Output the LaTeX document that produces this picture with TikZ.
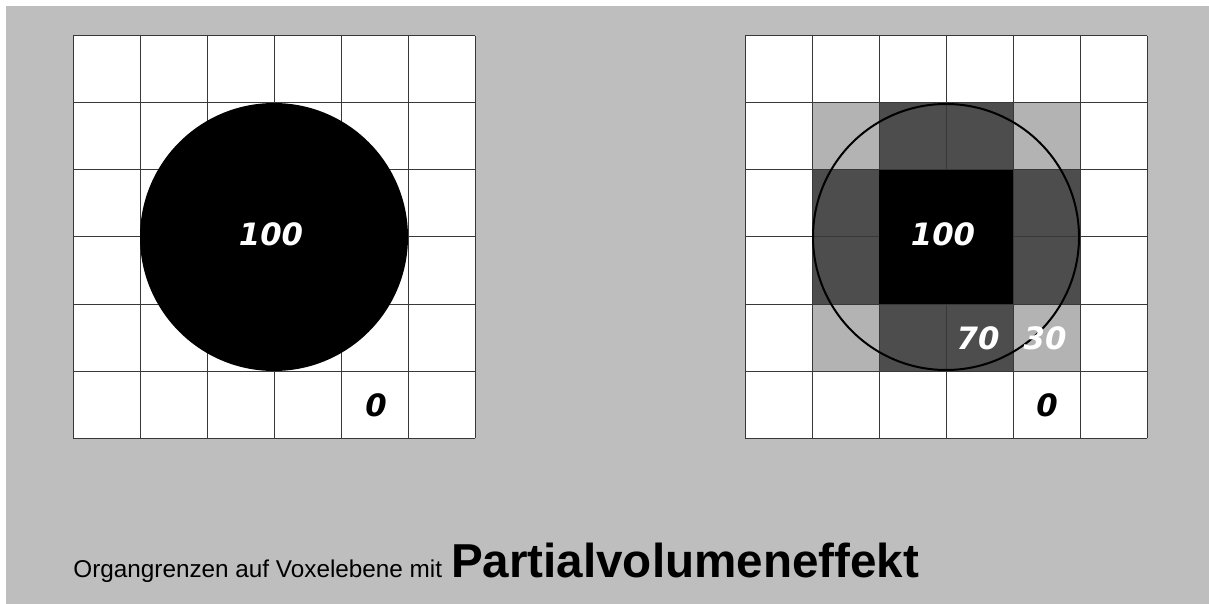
\documentclass[tikz,border=0pt]{standalone}
\usepackage{fontspec}
\setmainfont{Liberation Sans}
\newfontfamily\numfont{DejaVu Sans}[BoldItalicFont={DejaVu Sans Bold Oblique}]
\usetikzlibrary{positioning}
\definecolor{panelbg}{HTML}{BEBEBE}
\definecolor{partlow}{HTML}{B3B3B3}
\definecolor{parthigh}{HTML}{4D4D4D}

\begin{document}
\begin{tikzpicture}[
  x=0.5pt,y=-0.5pt,
  gridline/.style={draw=black!78,line width=0.5pt},
  val/.style={font=\numfont\bfseries\itshape\fontsize{15.4}{17}\selectfont,inner sep=0pt},
  small/.style={font=\fontsize{12.15}{14}\selectfont,inner sep=0pt,anchor=base west},
  big/.style={font=\bfseries\fontsize{23.8}{27}\selectfont,inner sep=0pt,anchor=base west}
]
\useasboundingbox (0,0) rectangle (1209,604);
\fill[white] (0,0) rectangle (1209,604);
\fill[panelbg] (6,6) rectangle (1209,604);

% voxel grids
\foreach \gx in {73,745}
  \fill[white] (\gx,36) rectangle ++(402,402);

% partial volume shading
\foreach \c/\r/\col in {1/1/partlow,2/1/parthigh,3/1/parthigh,4/1/partlow,
                        1/2/parthigh,4/2/parthigh,
                        1/3/parthigh,4/3/parthigh,
                        1/4/partlow,2/4/parthigh,3/4/parthigh,4/4/partlow}
  \fill[\col] (745+\c*67,36+\r*67) rectangle ++(67,67);

\foreach \gx in {73,745}
  \foreach \i in {0,...,6} {
    \draw[gridline] (\gx+\i*67,36) -- (\gx+\i*67,438);
    \draw[gridline] (\gx,36+\i*67) -- (\gx+402,36+\i*67);
  }

% full volume voxels
\fill[black] (879,170) rectangle (1013,304);

% organ
\fill[black] (274,237) circle[radius=134];
\draw[black,line width=1pt] (946,237) circle[radius=133];

\node[val,text=white] (lfull) at (271,234) {100};
\node[val] (lzero) at (376,405) {0};
\node[val,text=white] (rfull) at (943,234) {100};
\node[val,text=white] (rseventy) at (978,338) {70};
\node[val,text=white] (rthirty) at (1045,338) {30};
\node[val] (rzero) at (1047,405) {0};

\node[small] (caption) at (73,577) {Organgrenzen auf Voxelebene mit};
\node[big,right=4pt of caption.base east,anchor=base west] (captitle) {Partialvolumeneffekt};
\end{tikzpicture}
\end{document}
